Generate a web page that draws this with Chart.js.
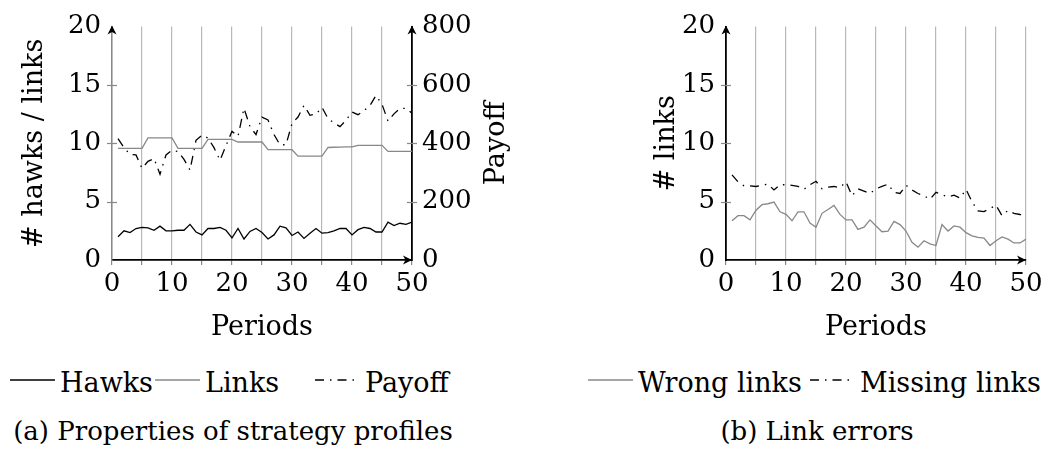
<!DOCTYPE html>
<html>
<head>
<meta charset="utf-8">
<script src="https://cdn.jsdelivr.net/npm/chart.js@4.4.1/dist/chart.umd.min.js"></script>
<style>
  html, body { margin: 0; padding: 0; background: #fff; }
  body { width: 1050px; height: 451px; position: relative; overflow: hidden;
         font-family: 'DejaVu Serif', serif; color: #000; }
  .box { position: absolute; top: 0; width: 525px; height: 350px; }
  .txt { position: absolute; font-size: 27px; line-height: 34px; white-space: nowrap; }
  .cap { font-size: 26px; }
  .key { position: absolute; }
</style>
</head>
<body>
<div class="box" style="left:0"><canvas id="chartA" width="525" height="350"></canvas></div>
<div class="box" style="left:525px"><canvas id="chartB" width="525" height="350"></canvas></div>

<svg class="key" style="left:10px;top:375px" width="46" height="10"><line x1="0" y1="5" x2="45" y2="5" stroke="#000" stroke-width="1.3"/></svg>
<div class="txt" style="left:60px;top:366px">Hawks</div>
<svg class="key" style="left:155px;top:375px" width="46" height="10"><line x1="0" y1="5" x2="45" y2="5" stroke="#888" stroke-width="1.3"/></svg>
<div class="txt" style="left:205px;top:366px">Links</div>
<svg class="key" style="left:315px;top:375px" width="46" height="10"><line x1="0" y1="5" x2="45" y2="5" stroke="#000" stroke-width="1.3" stroke-dasharray="9 6 1.5 6"/></svg>
<div class="txt" style="left:365px;top:366px">Payoff</div>
<div class="txt cap" style="left:0;width:466px;text-align:center;top:414px">(a) Properties of strategy profiles</div>

<svg class="key" style="left:588px;top:375px" width="46" height="10"><line x1="0" y1="5" x2="45" y2="5" stroke="#888" stroke-width="1.3"/></svg>
<div class="txt" style="left:638px;top:366px">Wrong links</div>
<svg class="key" style="left:810px;top:375px" width="46" height="10"><line x1="0" y1="5" x2="45" y2="5" stroke="#000" stroke-width="1.3" stroke-dasharray="9 6 1.5 6"/></svg>
<div class="txt" style="left:860px;top:366px">Missing links</div>
<div class="txt cap" style="left:617px;width:400px;text-align:center;top:414px">(b) Link errors</div>

<script>
// data
const periods = [1, 2, 3, 4, 5, 6, 7, 8, 9, 10, 11, 12, 13, 14, 15, 16, 17, 18, 19, 20,
                 21, 22, 23, 24, 25, 26, 27, 28, 29, 30, 31, 32, 33, 34, 35, 36, 37, 38, 39, 40,
                 41, 42, 43, 44, 45, 46, 47, 48, 49, 50];
const hawks = [2.0, 2.5, 2.35, 2.7, 2.8, 2.75, 2.55, 2.9, 2.5, 2.5, 2.55, 2.55, 3.05, 2.4, 2.15, 2.7, 2.7, 2.8, 2.55, 1.9,
               2.7, 1.8, 2.45, 2.7, 2.35, 1.8, 2.15, 2.9, 2.75, 2.1, 2.4, 1.85, 2.3, 2.7, 2.3, 2.35, 2.5, 2.7, 2.7, 2.15,
               2.6, 2.8, 2.7, 2.4, 2.4, 3.25, 2.95, 3.15, 3.05, 3.25];
const links = [9.56, 9.56, 9.56, 9.56, 9.56, 10.47, 10.47, 10.47, 10.47, 10.47, 9.56, 9.56, 9.56, 9.56, 9.56,
               10.33, 10.33, 10.33, 10.33, 10.33, 10.11, 10.11, 10.11, 10.11, 10.11, 9.45, 9.45, 9.45, 9.45, 9.45,
               8.9, 8.9, 8.9, 8.9, 8.9, 9.64, 9.66, 9.68, 9.69, 9.7, 9.83, 9.83, 9.83, 9.83, 9.83,
               9.31, 9.31, 9.31, 9.31, 9.31];
const payoff = [416, 385, 362, 360, 314, 338, 348, 294, 360, 376, 372, 345, 308, 410, 428, 418, 385, 342, 392, 441,
                424, 520, 457, 430, 490, 480, 430, 395, 395, 468, 490, 530, 496, 500, 523, 485, 470, 457, 479, 507,
                498, 512, 530, 564, 534, 476, 501, 520, 520, 503];
const wrongLinks = [3.36, 3.8, 3.8, 3.44, 4.27, 4.74, 4.82, 4.96, 4.13, 3.91, 3.36, 4.13, 4.13, 3.17, 2.81, 4.0, 4.33, 4.68, 3.91, 3.44,
                    3.44, 2.62, 2.81, 3.44, 2.92, 2.42, 2.48, 3.31, 3.03, 2.48, 1.52, 1.1, 1.65, 1.38, 1.24, 3.03, 2.48, 2.92, 2.81, 2.34,
                    2.07, 1.93, 1.88, 1.24, 1.65, 1.98, 1.79, 1.46, 1.46, 1.79];
const missingLinks = [7.3, 6.7, 6.35, 6.35, 6.3, 6.4, 6.5, 6.0, 6.45, 6.45, 6.4, 6.3, 6.05, 6.45, 6.75, 6.1, 6.25, 6.3, 6.2, 6.7,
                      5.5, 6.1, 5.9, 5.7, 6.1, 6.3, 6.5, 5.8, 5.7, 6.4, 6.0, 5.7, 5.5, 5.2, 5.8, 5.6, 5.4, 5.55, 5.3, 6.05,
                      5.0, 4.2, 4.15, 4.4, 4.7, 3.8, 4.25, 4.0, 3.9, 3.85];
const xTicks = [0, 5, 10, 15, 20, 25, 30, 35, 40, 45, 50];
const countTicks = [0, 5, 10, 15, 20];
const payoffTicks = [0, 200, 400, 600, 800];

const serif = "'DejaVu Serif', serif";
Chart.defaults.font.family = serif;
Chart.defaults.color = '#000';

const GRID = '#b8b8b8';
const GRAY = '#888';

function pts(ys) {
    return periods.map((p, i) => ({ x: p, y: ys[i] }));
}
function fixWidth(w) { return s => { s.width = w; }; }
function fixHeight(h) { return s => { s.height = h; }; }
function setTicks(list) { return s => { s.ticks = list.map(v => ({ value: v })); }; }

function arrow(ctx, x, y, dir) {
    ctx.save();
    ctx.translate(x, y);
    if (dir === 'right') ctx.rotate(Math.PI / 2);
    ctx.beginPath();
    ctx.moveTo(0, 0);
    ctx.lineTo(-4.5, 9);
    ctx.lineTo(0, 6.5);
    ctx.lineTo(4.5, 9);
    ctx.closePath();
    ctx.fillStyle = '#000';
    ctx.fill();
    ctx.restore();
}

const deco = {
    id: 'deco',
    afterDraw(chart, args, opts) {
        const ctx = chart.ctx, a = chart.chartArea;
        ctx.save();
        // y ticks crossing the axis line
        ctx.strokeStyle = GRAY;
        ctx.lineWidth = 1.2;
        (opts.tickAxes || []).forEach(id => {
            const s = chart.scales[id];
            const x0 = s.position === 'left' ? a.left : a.right;
            s.ticks.forEach(t => {
                if (t.value === s.min || t.value === s.max) return;
                const y = Math.round(s.getPixelForValue(t.value)) + 0.5;
                ctx.beginPath();
                ctx.moveTo(x0 - 5, y);
                ctx.lineTo(x0 + 5, y);
                ctx.stroke();
            });
        });
        // arrow heads
        arrow(ctx, a.left, a.top - 1, 'up');
        arrow(ctx, a.right, a.bottom, 'right');
        if (opts.rightAxis) arrow(ctx, a.right, a.top - 1, 'up');
        // rotated title for the right axis
        if (opts.rightTitle) {
            ctx.translate(opts.rightTitle.x, (a.top + a.bottom) / 2);
            ctx.rotate(-Math.PI / 2);
            ctx.font = '27px ' + serif;
            ctx.fillStyle = '#000';
            ctx.textAlign = 'center';
            ctx.textBaseline = 'middle';
            ctx.fillText(opts.rightTitle.text, 0, 0);
        }
        ctx.restore();
    }
};

function xScale(hideAt) {
    return {
        type: 'linear', min: 0, max: 50,
        afterFit: fixHeight(90),
        afterBuildTicks: setTicks(xTicks),
        ticks: { font: { size: 26 }, padding: 4, maxRotation: 0, autoSkip: false,
                 callback: v => (v % 10 === 0 ? v : '') },
        grid: { color: c => (c.tick && c.tick.value === hideAt ? 'rgba(0,0,0,0)' : GRID),
                tickColor: GRAY, lineWidth: 1.2, tickLength: 5 },
        border: { color: '#000', width: 1.8 },
        title: { display: true, text: 'Periods', font: { size: 27, lineHeight: 1 },
                 padding: { top: 0, bottom: 9 } }
    };
}

const lineStyle = { pointRadius: 0, borderWidth: 1.3, tension: 0, fill: false };

new Chart(document.getElementById('chartA'), {
    type: 'line',
    data: {
        datasets: [
            Object.assign({ label: 'Hawks', data: pts(hawks), borderColor: '#000', yAxisID: 'y' }, lineStyle),
            Object.assign({ label: 'Links', data: pts(links), borderColor: GRAY, yAxisID: 'y' }, lineStyle),
            Object.assign({ label: 'Payoff', data: pts(payoff), borderColor: '#000', borderDash: [9, 6, 1.5, 6],
                            yAxisID: 'y1' }, lineStyle)
        ]
    },
    options: {
        responsive: false,
        animation: false,
        layout: { padding: { top: 18, left: 0, right: 0, bottom: 0 } },
        plugins: {
            legend: { display: false },
            tooltip: { enabled: false },
            deco: { tickAxes: ['y', 'y1'], rightAxis: true, rightTitle: { text: 'Payoff', x: 497 } }
        },
        scales: {
            x: xScale(50),
            y: {
                position: 'left', min: 0, max: 20,
                afterFit: fixWidth(112),
                afterBuildTicks: setTicks(countTicks),
                ticks: { font: { size: 26 }, padding: 11 },
                grid: { drawOnChartArea: false, drawTicks: false },
                border: { color: GRAY, width: 1.5 },
                title: { display: true, text: '# hawks / links', font: { size: 27, lineHeight: 1 },
                         padding: { top: 21.5 } }
            },
            y1: {
                position: 'right', min: 0, max: 800,
                afterFit: fixWidth(113),
                afterBuildTicks: setTicks(payoffTicks),
                ticks: { font: { size: 26 }, padding: 10 },
                grid: { drawOnChartArea: false, drawTicks: false },
                border: { color: '#000', width: 1.8 }
            }
        }
    },
    plugins: [deco]
});

new Chart(document.getElementById('chartB'), {
    type: 'line',
    data: {
        datasets: [
            Object.assign({ label: 'Wrong links', data: pts(wrongLinks), borderColor: GRAY }, lineStyle),
            Object.assign({ label: 'Missing links', data: pts(missingLinks), borderColor: '#000',
                            borderDash: [9, 6, 1.5, 6] }, lineStyle)
        ]
    },
    options: {
        responsive: false,
        animation: false,
        layout: { padding: { top: 18, left: 0, right: 24, bottom: 0 } },
        plugins: {
            legend: { display: false },
            tooltip: { enabled: false },
            deco: { tickAxes: ['y'] }
        },
        scales: {
            x: xScale(0),
            y: {
                position: 'left', min: 0, max: 20,
                afterFit: fixWidth(201),
                afterBuildTicks: setTicks(countTicks),
                ticks: { font: { size: 26 }, padding: 11 },
                grid: { drawOnChartArea: false, drawTicks: false },
                border: { color: '#000', width: 1.8 },
                title: { display: true, text: '# links', font: { size: 27, lineHeight: 1 },
                         padding: { top: 128.5 } }
            }
        }
    },
    plugins: [deco]
});
</script>
</body>
</html>
